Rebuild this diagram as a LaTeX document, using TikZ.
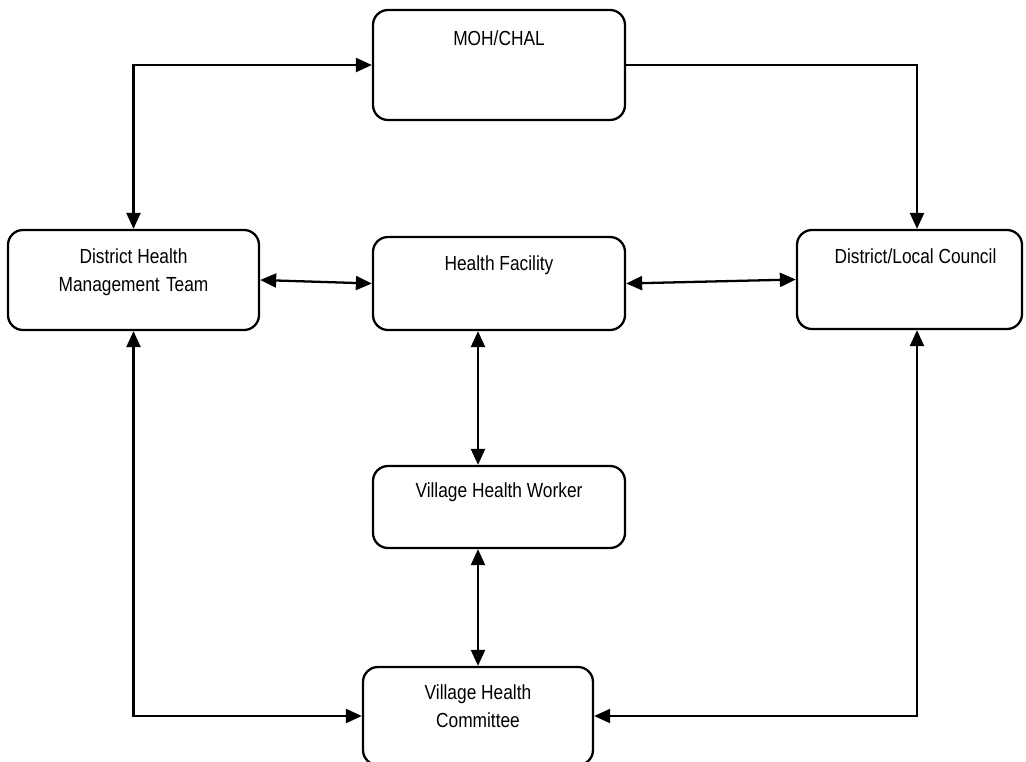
\documentclass[tikz,border=0pt]{standalone}
\usepackage{fontspec}
\newfontfamily\boxfont[FakeStretch=0.85]{Liberation Sans}
\usepackage{tikz}
\usetikzlibrary{calc}
\usetikzlibrary{arrows.meta}

\begin{document}
\begin{tikzpicture}[
		bx/.style={draw, line width=1.3pt, rounded corners=0.3cm, minimum width=5.04cm, inner sep=0pt},
		lb/.style={anchor=north, yshift=-0.4cm, inner sep=0pt, align=center, font=\boxfont\fontsize{11.6}{15.9}\selectfont},
		ar/.style={line width=1.3pt, -{Triangle[length=0.32cm, width=0.28cm]}},
		br/.style={line width=1.3pt, {Triangle[length=0.32cm, width=0.28cm]}-{Triangle[length=0.32cm, width=0.28cm]}}
		]
		\useasboundingbox (0,0) rectangle (20.52,-15.24);
		\clip (0,0) rectangle (20.52,-15.24);

		\node[bx, minimum height=2.2cm, label={[lb, yshift=-0.04cm]north:MOH/CHAL}] (moh) at (9.98,-1.30) {};
		\node[bx, minimum width=5.02cm, minimum height=2.0cm, label={[lb]north:District Health\\Management\hspace{3.6pt}Team}] (dhmt) at (2.67,-5.60) {};
		\node[bx, minimum height=1.86cm, label={[lb]north:Health Facility}] (hf) at (9.98,-5.67) {};
		\node[bx, minimum width=4.5cm, minimum height=1.98cm, label={[lb, xshift=0.12cm]north:District/Local Council}] (dlc) at (18.19,-5.59) {};
		\node[bx, minimum height=1.64cm, label={[lb, yshift=0.04cm]north:Village Health Worker}] (vhw) at (9.98,-10.14) {};
		\node[bx, minimum width=4.6cm, minimum height=1.96cm, label={[lb, yshift=0.02cm]north:Village Health\\Committee}] (vhc) at (9.56,-14.32) {};

		% top links
		\draw[br] (dhmt.north) |- (moh.west);
		\draw[ar] (moh.east) -| ([xshift=0.15cm]dlc.north);

		% middle row
		\draw[br] (dhmt.east) -- (hf.west);
		\draw[br] (hf.east) -- (dlc.west);

		% down the middle
		\draw[br] (hf.south -| vhc.north) -- (vhw.north -| vhc.north);
		\draw[br] (vhw.south -| vhc.north) -- (vhc.north);

		% bottom links
		\draw[br] (dhmt.south) |- (vhc.west);
		\draw[br] ([xshift=0.15cm]dlc.south) |- (vhc.east);
	\end{tikzpicture}
\end{document}
